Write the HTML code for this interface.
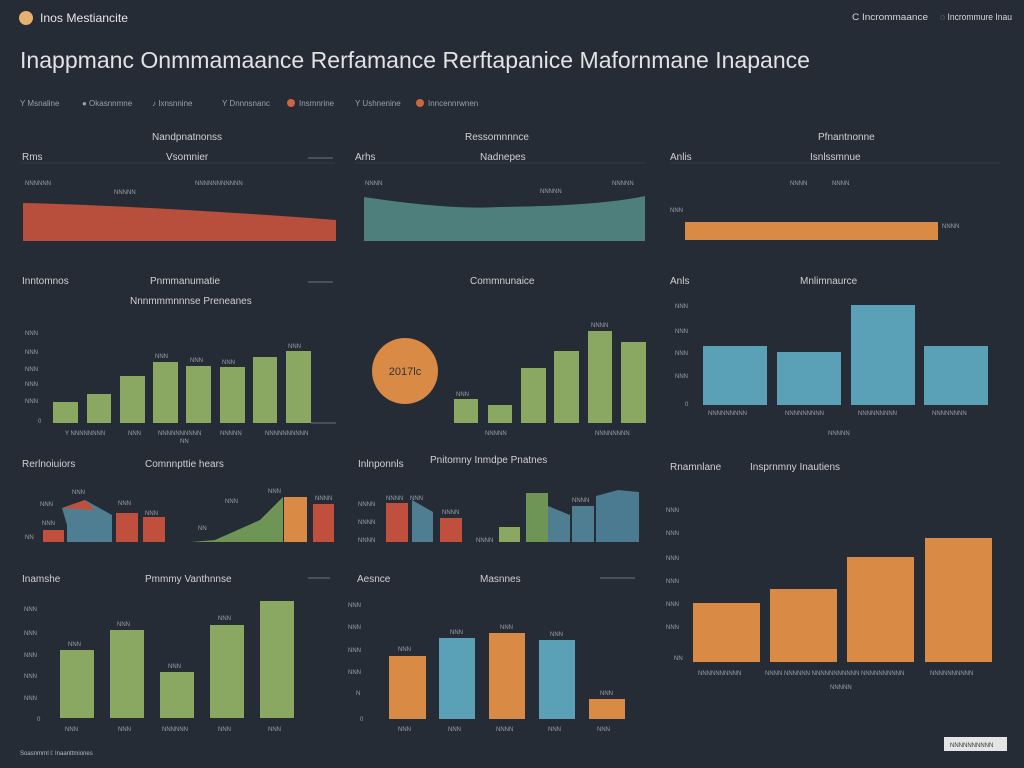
<!DOCTYPE html>
<html><head><meta charset="utf-8"><style>
html,body{margin:0;padding:0;background:#252c35;}
svg{display:block;font-family:"Liberation Sans",sans-serif;}
</style></head><body>
<svg width="1024" height="768" viewBox="0 0 1024 768" xmlns="http://www.w3.org/2000/svg">
<rect width="1024" height="768" fill="#252c35"/>
<g fill="#d8d8d8">
<circle cx="26" cy="18" r="7" fill="#e8b06e"/>
<text x="40" y="22" font-size="12" fill="#e6e6e6" textLength="88" lengthAdjust="spacingAndGlyphs">Inos Mestiancite</text>
<text x="852" y="20" font-size="9" textLength="76" lengthAdjust="spacingAndGlyphs">C  Incrommaance</text>
<text x="940" y="20" font-size="9" textLength="72" lengthAdjust="spacingAndGlyphs">◌  Incrommure Inau</text>
<text x="20" y="68" font-size="23" fill="#e2e2e2" textLength="790" lengthAdjust="spacingAndGlyphs">Inappmanc Onmmamaance Rerfamance  Rerftapanice Mafornmane Inapance</text>
</g>
<g font-size="8" fill="#9aa0a8">
<text x="20" y="106">Y Msnaline</text><text x="82" y="106">● Okasnnmne</text>
<text x="152" y="106">♪ Ixnsnnine</text><text x="222" y="106">Y Dnnnsnanc</text>
<circle cx="291" cy="103" r="4" fill="#d0643f"/><text x="299" y="106">Insmnrine</text>
<text x="355" y="106">Y Ushnenine</text>
<circle cx="420" cy="103" r="4" fill="#d0643f"/><text x="428" y="106">Inncennrwnen</text>
</g>
<g font-size="10" fill="#d0d0d0">
<text x="152" y="140">Nandpnatnonss</text>
<text x="22" y="160">Rms</text><text x="166" y="160">Vsomnier</text>
<text x="465" y="140">Ressomnnnce</text>
<text x="355" y="160">Arhs</text><text x="480" y="160">Nadnepes</text>
<text x="818" y="140">Pfnantnonne</text>
<text x="670" y="160">Anlis</text><text x="810" y="160">Isnlssmnue</text>
<text x="22" y="284">Inntomnos</text><text x="150" y="284">Pnmmanumatie</text>
<text x="130" y="304">Nnnmmmnnnse Preneanes</text>
<text x="470" y="284">Commnunaice</text>
<text x="670" y="284">Anls</text><text x="800" y="284">Mnlimnaurce</text>
<text x="22" y="467">Rerlnoiuiors</text><text x="145" y="467">Comnnpttie hears</text>
<text x="358" y="467">Inlnponnls</text><text x="430" y="463">Pnitomny Inmdpe Pnatnes</text>
<text x="670" y="470">Rnamnlane</text><text x="750" y="470">Insprnmny Inautiens</text>
<text x="22" y="582">Inamshe</text><text x="145" y="582">Pmmmy Vanthnnse</text>
<text x="357" y="582">Aesnce</text><text x="480" y="582">Masnnes</text>
</g>
<g stroke="#555c66" stroke-width="1.5">
<line x1="308" y1="158" x2="333" y2="158"/><line x1="308" y1="282" x2="333" y2="282"/>
<line x1="308" y1="578" x2="330" y2="578"/><line x1="600" y1="578" x2="635" y2="578"/>
<line x1="311" y1="423" x2="336" y2="423"/>
</g>
<g stroke="#323a45" stroke-width="1"><line x1="20" y1="163" x2="335" y2="163"/><line x1="355" y1="163" x2="645" y2="163"/><line x1="670" y1="163" x2="1000" y2="163"/></g>
<g font-size="6" fill="#9aa0a8">
<text x="25" y="185">NNNNNN</text><text x="114" y="194">NNNNN</text><text x="195" y="185">NNNNNNNNNNN</text>
<text x="365" y="185">NNNN</text><text x="540" y="193">NNNNN</text><text x="612" y="185">NNNNN</text>
<text x="790" y="185">NNNN</text><text x="832" y="185">NNNN</text><text x="670" y="212">NNN</text><text x="942" y="228">NNNN</text>
<text x="25" y="335">NNN</text><text x="25" y="354">NNN</text><text x="25" y="371">NNN</text><text x="25" y="386">NNN</text><text x="25" y="403">NNN</text><text x="38" y="423">0</text>
<text x="155" y="358">NNN</text><text x="190" y="362">NNN</text><text x="222" y="364">NNN</text><text x="288" y="348">NNN</text>
<text x="65" y="435">Y NNNNNNNN</text><text x="128" y="435">NNN</text><text x="158" y="435">NNNNNNNNNN</text><text x="220" y="435">NNNNN</text><text x="265" y="435">NNNNNNNNNN</text><text x="180" y="443">NN</text>
<text x="456" y="396">NNN</text><text x="591" y="327">NNNN</text><text x="485" y="435">NNNNN</text><text x="595" y="435">NNNNNNNN</text>
<text x="675" y="308">NNN</text><text x="675" y="333">NNN</text><text x="675" y="355">NNN</text><text x="675" y="378">NNN</text><text x="685" y="406">0</text>
<text x="708" y="415">NNNNNNNNN</text><text x="785" y="415">NNNNNNNNN</text><text x="858" y="415">NNNNNNNNN</text><text x="932" y="415">NNNNNNNN</text><text x="828" y="435">NNNNN</text>
<text x="72" y="494">NNN</text><text x="40" y="506">NNN</text><text x="118" y="505">NNN</text><text x="145" y="515">NNN</text><text x="42" y="525">NNN</text><text x="25" y="539">NN</text>
<text x="225" y="503">NNN</text><text x="198" y="530">NN</text><text x="268" y="493">NNN</text><text x="315" y="500">NNNN</text>
<text x="358" y="506">NNNN</text><text x="358" y="524">NNNN</text><text x="358" y="542">NNNN</text><text x="386" y="500">NNNN</text><text x="410" y="500">NNN</text><text x="442" y="514">NNNN</text><text x="476" y="542">NNNN</text><text x="572" y="502">NNNN</text>
<text x="666" y="512">NNN</text><text x="666" y="535">NNN</text><text x="666" y="560">NNN</text><text x="666" y="583">NNN</text><text x="666" y="606">NNN</text><text x="666" y="629">NNN</text><text x="674" y="660">NN</text>
<text x="698" y="675">NNNNNNNNNN</text><text x="765" y="675">NNNN NNNNNN NNNNNNNNNNN NNNNNNNNNN</text><text x="930" y="675">NNNNNNNNNN</text><text x="830" y="689">NNNNN</text>
<text x="24" y="611">NNN</text><text x="24" y="635">NNN</text><text x="24" y="657">NNN</text><text x="24" y="678">NNN</text><text x="24" y="700">NNN</text><text x="37" y="721">0</text>
<text x="68" y="646">NNN</text><text x="117" y="626">NNN</text><text x="168" y="668">NNN</text><text x="218" y="620">NNN</text>
<text x="65" y="731">NNN</text><text x="118" y="731">NNN</text><text x="162" y="731">NNNNNN</text><text x="218" y="731">NNN</text><text x="268" y="731">NNN</text>
<text x="348" y="607">NNN</text><text x="348" y="629">NNN</text><text x="348" y="652">NNN</text><text x="348" y="674">NNN</text><text x="356" y="695">N</text><text x="360" y="721">0</text>
<text x="398" y="651">NNN</text><text x="450" y="634">NNN</text><text x="500" y="629">NNN</text><text x="550" y="636">NNN</text><text x="600" y="695">NNN</text>
<text x="398" y="731">NNN</text><text x="448" y="731">NNN</text><text x="496" y="731">NNNN</text><text x="548" y="731">NNN</text><text x="597" y="731">NNN</text>
<text x="20" y="755" fill="#b8bcc2">Soasnmrnl l: Inaanttmiones</text>
</g>
<path d="M23 203 Q150 206 336 220 L336 241 L23 241Z" fill="#b84f3c"/>
<path d="M364 197 Q450 210 500 207 Q600 206 645 196 L645 241 L364 241Z" fill="#4e7f7d"/>
<rect x="685" y="222" width="253" height="18" fill="#d98a45"/>
<g fill="#8aa862">
<rect x="53" y="402" width="25" height="21"/><rect x="87" y="394" width="24" height="29"/>
<rect x="120" y="376" width="25" height="47"/><rect x="153" y="362" width="25" height="61"/>
<rect x="186" y="366" width="25" height="57"/><rect x="220" y="367" width="25" height="56"/>
<rect x="253" y="357" width="24" height="66"/><rect x="286" y="351" width="25" height="72"/>
<rect x="454" y="399" width="24" height="24"/><rect x="488" y="405" width="24" height="18"/>
<rect x="521" y="368" width="25" height="55"/><rect x="554" y="351" width="25" height="72"/>
<rect x="588" y="331" width="24" height="92"/><rect x="621" y="342" width="25" height="81"/>
</g>
<circle cx="405" cy="371" r="33" fill="#d98a45"/>
<text x="405" y="375" font-size="11" fill="#333" text-anchor="middle" font-family="Liberation Sans,sans-serif">2017lc</text>
<g fill="#5aa0b6">
<rect x="703" y="346" width="64" height="59"/><rect x="777" y="352" width="64" height="53"/>
<rect x="851" y="305" width="64" height="100"/><rect x="924" y="346" width="64" height="59"/>
</g>
<rect x="43" y="530" width="21" height="12" fill="#c0503d"/>
<path d="M62 508 L85 500 L112 515 L112 542 L67 542 L67 525Z" fill="#4f7e93"/>
<path d="M62 508 L85 500 L95 510Z" fill="#c0503d"/>
<rect x="116" y="513" width="22" height="29" fill="#c0503d"/>
<rect x="143" y="517" width="22" height="25" fill="#c0503d"/>
<path d="M191 542 L215 540 L260 520 L283 497 L283 542Z" fill="#6e9456"/>
<rect x="284" y="497" width="23" height="45" fill="#d98a45"/>
<rect x="313" y="504" width="21" height="38" fill="#c0503d"/>
<rect x="386" y="503" width="22" height="39" fill="#c0503d"/>
<path d="M412 500 L433 512 L433 542 L412 542Z" fill="#4f7e93"/>
<rect x="440" y="518" width="22" height="24" fill="#c0503d"/>
<rect x="499" y="527" width="21" height="15" fill="#8aa862"/>
<rect x="526" y="493" width="22" height="49" fill="#6e9456"/>
<path d="M548 506 L570 515 L570 542 L548 542Z" fill="#4f7e93"/>
<rect x="572" y="506" width="22" height="36" fill="#4f7e93"/>
<path d="M596 496 L618 490 L639 492 L639 542 L596 542Z" fill="#4a7b91"/>
<g fill="#d98a45">
<rect x="693" y="603" width="67" height="59"/><rect x="770" y="589" width="67" height="73"/>
<rect x="847" y="557" width="67" height="105"/><rect x="925" y="538" width="67" height="124"/>
</g>
<g fill="#8aa862">
<rect x="60" y="650" width="34" height="68"/><rect x="110" y="630" width="34" height="88"/>
<rect x="160" y="672" width="34" height="46"/><rect x="210" y="625" width="34" height="93"/>
<rect x="260" y="601" width="34" height="117"/>
</g>
<rect x="389" y="656" width="37" height="63" fill="#d98a45"/>
<rect x="439" y="638" width="36" height="81" fill="#5aa0b6"/>
<rect x="489" y="633" width="36" height="86" fill="#d98a45"/>
<rect x="539" y="640" width="36" height="79" fill="#5aa0b6"/>
<rect x="589" y="699" width="36" height="20" fill="#d98a45"/>
<rect x="944" y="737" width="63" height="14" fill="#e4e4e4"/>
<text x="950" y="747" font-size="6" fill="#333">NNNNNNNNNN</text>
</svg>
</body></html>
